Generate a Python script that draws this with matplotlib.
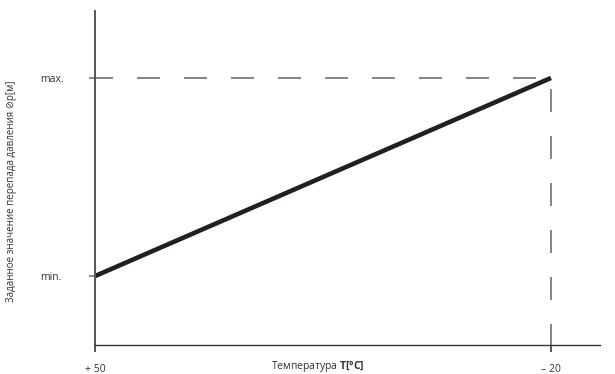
import matplotlib
matplotlib.use('Agg')
import matplotlib.pyplot as plt

# curve: setpoint vs temperature
temps = [50, -20]
setpoint = [0.0, 1.0]
x_ticks = [50, -20]
x_ticklabels = ['+ 50', '– 20']
y_ticks = [0.0, 1.0]
y_ticklabels = ['min.', 'max.']

plt.rcParams['font.family'] = ['Open Sans', 'DejaVu Sans']
plt.rcParams['mathtext.fontset'] = 'custom'
plt.rcParams['mathtext.bf'] = 'Open Sans:bold'

fig = plt.figure(figsize=(6.15, 3.74), dpi=100)
ax = fig.add_axes([95 / 615, 1 - 345 / 374, 505 / 615, 334 / 374])

ax.set_xlim(50, -27.52)
ax.set_ylim(-0.348, 1.338)

grey = '#6e6e6e'
lw_d = 1.2
ax.plot([temps[0], temps[1]], [setpoint[1], setpoint[1]], color=grey, lw=lw_d,
        linestyle=(3, (13.8, 14.4)), dash_capstyle='butt')
ax.plot([temps[1], temps[1]], [setpoint[1], -0.373], color=grey, lw=lw_d,
        linestyle=(21.6, (13.8, 14.4)), dash_capstyle='butt', clip_on=False)
ax.plot(temps, setpoint, color='#231f20', lw=3.3, solid_capstyle='butt')

for s in ['top', 'right']:
    ax.spines[s].set_visible(False)
ax.spines['left'].set_color('#555555')
ax.spines['left'].set_linewidth(1.4)
ax.spines['bottom'].set_color('#333333')
ax.spines['bottom'].set_linewidth(1.0)

ax.set_xticks(x_ticks)
ax.set_xticklabels(x_ticklabels)
ax.set_yticks(y_ticks)
ax.set_yticklabels(y_ticklabels)
ax.tick_params(axis='x', direction='out', length=5, width=1.4, color='#555555',
               labelsize=7.5, labelcolor='#333333', pad=9)
ax.tick_params(axis='y', direction='out', length=4, width=1.2, color='#777777',
               labelsize=7.5, labelcolor='#333333', pad=4)
for lbl in ax.get_yticklabels():
    lbl.set_horizontalalignment('left')
    lbl.set_x(-44 / 505)

ax.text(318 / 615, 1 - 366 / 374, r'Температура $\mathbf{T[°C]}$',
        transform=fig.transFigure, ha='center', va='center', fontsize=7.5,
        color='#333333')
ax.text(12 / 615, 1 - 191 / 374, 'Заданное значение перепада давления ⊘p[м]',
        transform=fig.transFigure, ha='center', va='center', rotation=90,
        fontsize=7, color='#333333')

fig.savefig('out.png', dpi=100)
